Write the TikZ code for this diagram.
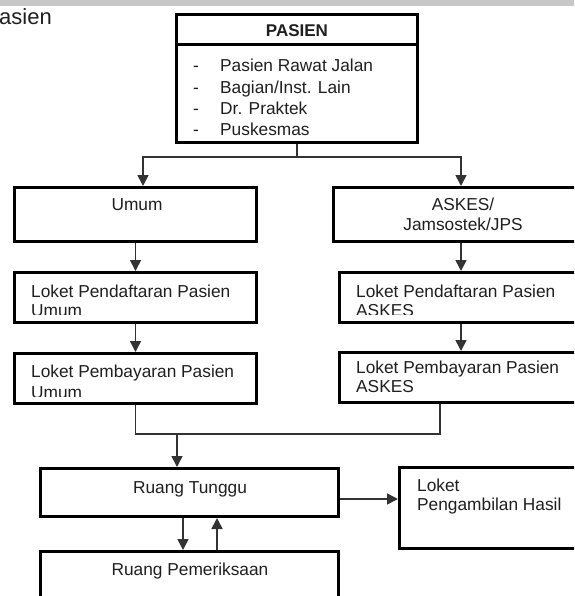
\documentclass[tikz,border=0pt]{standalone}
\usepackage{fontspec}
\setmainfont{Liberation Sans}
\usetikzlibrary{arrows.meta}

\tikzset{
  box/.style={draw=black, line width=3pt, rectangle, inner sep=0pt, fill=white},
  lbl/.style={inner sep=0pt, text=black!88, font=\fontsize{17.3}{20}\selectfont},
  link/.style={draw=black!80, line width=1.6pt},
  arrow/.style={link, -{Triangle[length=11pt,width=11pt]}},
}

\begin{document}
\begin{tikzpicture}[x=1pt, y=-1pt]
\useasboundingbox (0,0) rectangle (574,596);
\clip (0,0) rectangle (574,596);

% light band along the upper edge
\fill[black!22] (0,0) rectangle (574,6);

% caption fragment at the upper left
\node[lbl, anchor=base east, font=\fontsize{22}{24}\selectfont] (cap) at (52,25) {Pasien};

% ---- boxes ----
\node[box, minimum width=241pt, minimum height=128pt] (pasien) at (297,78.5) {};
\draw[line width=3pt] (pasien.west |- 0,45) -- (pasien.east |- 0,45);

\node[box, minimum width=242pt, minimum height=54pt] (umum) at (135.5,214.5) {};
\node[box, minimum width=286.5pt, minimum height=54pt] (askes) at (476.75,214.5) {};

\node[box, minimum width=242pt, minimum height=50pt] (pendu) at (135.5,297.5) {};
\node[box, minimum width=280.5pt, minimum height=50pt] (penda) at (479.75,297.5) {};

\node[box, minimum width=242pt, minimum height=50pt] (bayaru) at (135.5,378.5) {};
\node[box, minimum width=280.5pt, minimum height=50pt] (bayara) at (479.75,377.5) {};

\node[box, minimum width=298pt, minimum height=48pt] (tunggu) at (189.5,492.5) {};
\node[box, minimum width=220.5pt, minimum height=81pt] (ambil) at (509.75,508) {};
\node[box, minimum width=298pt, minimum height=88.5pt] (periksa) at (189.5,595.75) {};

% ---- texts ----
\node[lbl, anchor=base, font=\bfseries\fontsize{17}{20}\selectfont] (pasienT) at (297,37) {PASIEN};
\foreach \i/\y/\t in {1/72/{Pasien Rawat Jalan}, 2/93.5/{Bagian/Inst. Lain}, 3/114.5/{Dr. Praktek}, 4/136/{Puskesmas}}{
  \node[lbl, anchor=base] (dash\i) at (196,\y) {-};
  \node[lbl, anchor=base west] (item\i) at (220,\y) {\t};
}

\node[lbl, anchor=base] (umumT) at (137,210) {Umum};
\node[lbl, anchor=base] (askesT1) at (463,210) {ASKES/};
\node[lbl, anchor=base] (askesT2) at (463,230) {Jamsostek/JPS};

\node[lbl, anchor=base west] (penduT) at (31,297) {Loket Pendaftaran Pasien};
\node[lbl, anchor=base west] (pendaT) at (356,297) {Loket Pendaftaran Pasien};
\begin{scope}
  \clip (0,250) rectangle (574,314);
  \node[lbl, anchor=base west] (penduT2) at (31,316.5) {Umum};
  \node[lbl, anchor=base west] (pendaT2) at (356,316.5) {ASKES};
\end{scope}

\node[lbl, anchor=base west] (bayaruT) at (31,377) {Loket Pembayaran Pasien};
\begin{scope}
  \clip (0,340) rectangle (300,396);
  \node[lbl, anchor=base west] (bayaruT2) at (31,398.5) {Umum};
\end{scope}
\node[lbl, anchor=base west] (bayaraT) at (356,373) {Loket Pembayaran Pasien};
\node[lbl, anchor=base west] (bayaraT2) at (356,392) {ASKES};

\node[lbl, anchor=base] (tungguT) at (190,493) {Ruang Tunggu};
\node[lbl, anchor=base west] (ambilT1) at (417,491) {Loket};
\node[lbl, anchor=base west] (ambilT2) at (417,510) {Pengambilan Hasil};
\node[lbl, anchor=base] (periksaT) at (190,575) {Ruang Pemeriksaan};

% ---- connectors ----
\coordinate (split) at (297,157);
\coordinate (colU) at (143,0);
\coordinate (colA) at (461,0);
\draw[link] (pasien.south) -- (split);
\draw[arrow] (split) -| (colU |- umum.north);
\draw[arrow] (split) -| (colA |- askes.north);

\draw[arrow] (umum) -- (pendu);
\draw[arrow] (pendu) -- (bayaru);
\draw[arrow] (askes.south -| colA) -- (penda.north -| colA);
\draw[arrow] (penda.south -| colA) -- (bayara.north -| colA);

\coordinate (mergeL) at (135.5,434);
\coordinate (mergeR) at (440,434);
\coordinate (drop) at (177,434);
\draw[link] (bayaru.south) -- (mergeL) -- (mergeR) -- (mergeR |- bayara.south);
\draw[arrow] (drop) -- (drop |- tunggu.north);

\coordinate (row) at (0,499);
\draw[arrow] (tunggu.east |- row) -- (ambil.west |- row);

\coordinate (down) at (183,0);
\coordinate (up) at (217,0);
\draw[arrow] (tunggu.south -| down) -- (periksa.north -| down);
\draw[arrow] (periksa.north -| up) -- (tunggu.south -| up);
\end{tikzpicture}
\end{document}
